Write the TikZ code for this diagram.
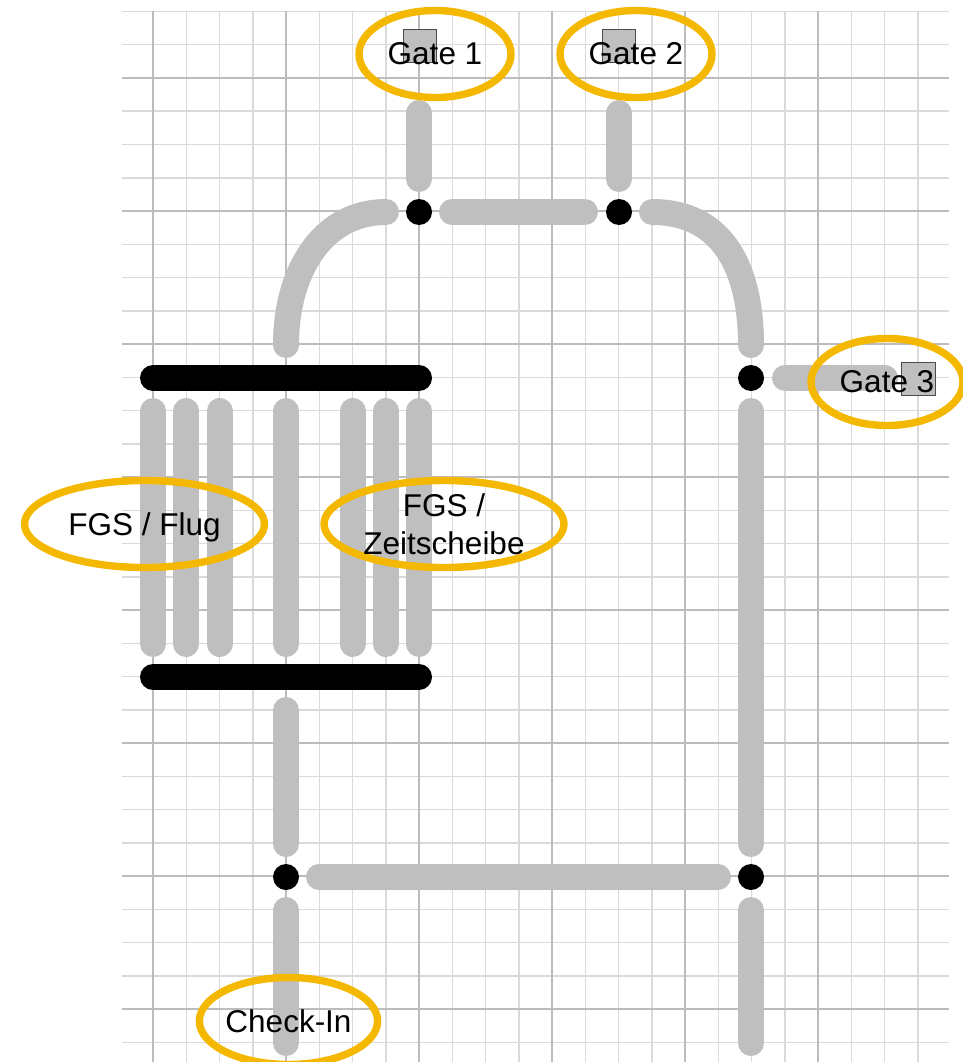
\documentclass[tikz,border=0pt]{standalone}
\usepackage{fontspec}
\setmainfont{Liberation Sans}
\usetikzlibrary{shapes.geometric}
\definecolor{pipegray}{HTML}{BFBFBF}
\definecolor{ringgold}{HTML}{F5B800}
\definecolor{gridminor}{HTML}{DADADA}
\definecolor{gridmajor}{HTML}{BCBCBC}
\tikzset{
  gridline/.style={draw=gridminor,line width=1.5pt},
  gridbold/.style={draw=gridmajor,line width=1.3pt},
  pipe/.style={draw=pipegray,line width=26pt,line cap=round},
  bar/.style={draw=black,line width=26pt,line cap=round},
  junction/.style={circle,fill=black,draw=none,minimum size=26pt,inner sep=0pt},
  gatebox/.style={rectangle,fill=pipegray,draw=black!70,line width=1pt,minimum size=33.5pt,inner sep=0pt},
  ring/.style={ellipse,draw=ringgold,line width=7.4pt,inner sep=0pt,text=black,align=center,
    font=\fontsize{31.5}{38}\selectfont},
}
\begin{document}
\begin{tikzpicture}[x=1pt,y=-1pt]
\useasboundingbox (0,0) rectangle (963,1062);
% grid
\foreach \k in {0,...,23}{
  \pgfmathsetmacro{\xx}{153+33.25*\k}
  \pgfmathtruncatemacro{\mm}{mod(\k,4)}
  \ifnum\mm=0\relax\else\draw[gridline] (\xx,11) -- (\xx,1062);\fi
}
\foreach \k in {0,...,31}{
  \pgfmathsetmacro{\yy}{11.5+33.25*\k}
  \pgfmathtruncatemacro{\mm}{mod(\k+2,4)}
  \ifnum\mm=0\relax\else\draw[gridline] (122,\yy) -- (949,\yy);\fi
}
\foreach \k in {0,...,5}{
  \pgfmathsetmacro{\xx}{153+133*\k}
  \draw[gridbold] (\xx,11) -- (\xx,1062);
}
\foreach \k in {0,...,7}{
  \pgfmathsetmacro{\yy}{78+133*\k}
  \draw[gridbold] (122,\yy) -- (949,\yy);
}
% gate squares
\node[gatebox] (sq1) at (420,46) {};
\node[gatebox] (sq2) at (619,46) {};
\node[gatebox] (sq3) at (918.5,379) {};
% junctions
\node[junction] (j1) at (419,212) {};
\node[junction] (j2) at (619,212) {};
\node[junction] (j3) at (751,378) {};
\node[junction] (j4) at (286,877) {};
\node[junction] (j5) at (751,877) {};
% bars
\draw[bar] (153,378) coordinate (bar1l) -- (419,378) coordinate (bar1r);
\draw[bar] (153,677) coordinate (bar2l) -- (419,677) coordinate (bar2r);
% pipes
\draw[pipe] (419,113) -- (419,179);
\draw[pipe] (619,113) -- (619,179);
\draw[pipe] (452,212) -- (585,212);
\draw[pipe] (286,345) .. controls (286,272) and (322,212) .. (386,212);
\draw[pipe] (652,212) .. controls (725,212) and (751,272) .. (751,345);
\foreach \x in {153,186.25,219.5,286,352.5,385.75,419}{
  \draw[pipe] (\x,411) -- (\x,644);
}
\draw[pipe] (286,710) -- (286,844);
\draw[pipe] (286,910) -- (286,1043);
\draw[pipe] (319,877) -- (718,877);
\draw[pipe] (751,411) -- (751,844);
\draw[pipe] (751,910) -- (751,1043);
\draw[pipe] (785,378) -- (885,378);
% labelled rings
\node[ring,minimum width=152pt,minimum height=87pt] (g1) at (435,54) {Gate 1};
\node[ring,minimum width=152pt,minimum height=87pt] (g2) at (636,54) {Gate 2};
\node[ring,minimum width=152pt,minimum height=87pt] (g3) at (887,382) {Gate 3};
\node[ring,minimum width=240pt,minimum height=87pt,text depth=0pt] (f1) at (144.5,524) {FGS / Flug};
\node[ring,minimum width=240pt,minimum height=87pt] (f2) at (444,524) {FGS /\\Zeitscheibe};
\node[ring,minimum width=176pt,minimum height=87pt] (ci) at (288.5,1021) {Check-In};
\end{tikzpicture}
\end{document}
